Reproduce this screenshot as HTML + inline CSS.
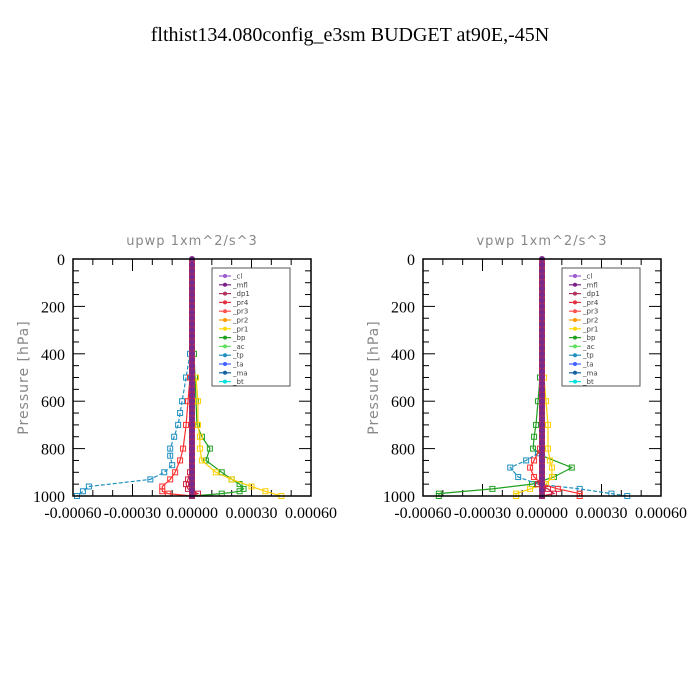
<!DOCTYPE html>
<html><head><meta charset="utf-8"><style>
body{margin:0;background:#fff;}
svg{display:block;}
</style></head><body>
<svg id="chart" width="700" height="700" xmlns="http://www.w3.org/2000/svg">
<rect width="700" height="700" fill="#fff"/>
<text x="350" y="41" text-anchor="middle" font-family="Liberation Serif, serif" font-size="20" fill="#000">flthist134.080config_e3sm  BUDGET at90E,-45N</text>
</svg>
<script>
// shared axis ticks
const xTicks = [-0.0006, -0.0003, 0, 0.0003, 0.0006];
const xTickLabels = ["-0.00060", "-0.00030", "0.00000", "0.00030", "0.00060"];
const yTicks = [0, 200, 400, 600, 800, 1000];
const legendNames = ["_cl","_mfl","_dp1","_pr4","_pr3","_pr2","_pr1","_bp","_ac","_tp","_ta","_ma","_bt"];
const legendColors = ["#9b59d0","#7a1f8a","#b03060","#e03040","#ff5050","#ff9a00","#ffd800","#20a020","#60e060","#2090c0","#4060ff","#1060a0","#00e0e0"];
const centerLevels = [0,25,50,75,100,125,150,175,200,225,250,275,300,325,350,375,400,425,450,475,500,525,550,575,600,625,650,675,700,725,750,775,800,825,850,875,900,925,950,975,1000];

// panel 1 (upwp)
const p1tpLev = [400,500,600,650,700,750,800,830,870,900,930,960,980,1000];
const p1tpVal = [-0.00001,-0.00003,-0.00005,-0.00006,-0.00007,-0.00009,-0.00011,-0.00011,-0.0001,-0.00014,-0.00021,-0.00052,-0.00055,-0.00058];
const p1pr3Lev = [500,600,700,800,850,900,930,960,980,990,1000];
const p1pr3Val = [-0.00001,-0.00002,-0.00003,-0.000045,-0.00006,-0.000085,-0.00011,-0.00015,-0.00015,-0.00012,0];
const p1bpLev = [400,500,600,700,750,800,850,900,930,950,970,980,990,1000];
const p1bpVal = [0.00001,0.000015,0.00002,0.000025,0.00005,0.00009,0.00007,0.00015,0.0002,0.00024,0.00026,0.00024,0.00015,0];
const p1pr1Lev = [500,600,700,750,800,850,900,930,960,980,1000];
const p1pr1Val = [0.00002,0.00003,0.00003,0.00004,0.00004,0.00005,0.00012,0.0002,0.0003,0.00037,0.00045];
const p1dp1Lev = [850,900,930,950,970,990,1000];
const p1dp1Val = [0,-0.00001,-0.00002,-0.00003,-0.00002,0.00003,0];

// panel 2 (vpwp)
const p2bpLev = [500,600,700,750,800,830,880,920,950,970,990,1000];
const p2bpVal = [-0.00001,-0.00002,-0.00003,-0.00004,-0.000045,0,0.00015,0.00006,-0.00005,-0.00025,-0.00052,-0.00052];
const p2tpLev = [820,850,880,920,950,970,990,1000];
const p2tpVal = [-0.00002,-0.00008,-0.00016,-0.00012,-0.00002,0.00019,0.00035,0.00043];
const p2pr3Lev = [800,850,880,920,950,970,990,1000];
const p2pr3Val = [-0.00001,-0.00004,-0.00006,-0.00004,0,0.00008,0.00019,0.00019];
const p2pr1Lev = [500,600,700,800,850,880,920,950,970,990,1000];
const p2pr1Val = [0.00001,0.00002,0.00003,0.00003,0.00004,0.00005,0.00005,0.00002,-0.00006,-0.00013,-0.00013];
const p2dp1Lev = [900,950,970,990,1000];
const p2dp1Val = [0,-0.00002,0.00003,0.00006,0];

const NS="http://www.w3.org/2000/svg";
const svg=document.getElementById('chart');
function mk(tag,attrs,parent){const e=document.createElementNS(NS,tag);for(const k in attrs)e.setAttribute(k,attrs[k]);(parent||svg).appendChild(e);return e;}

function panel(ox,title,name,series){
  const L=ox+73,R=ox+311,T=259,B=496;
  const xs=v=>L+(v+0.0006)/0.0012*(R-L);
  const ys=p=>T+p/1000*(B-T);
  const g=mk('g',{});
  
  
  const t=mk('text',{x:(L+R)/2,y:245,'text-anchor':'middle','font-family':'DejaVu Sans, sans-serif','font-size':13,fill:'#888','letter-spacing':'1'},g);
  t.textContent=title;
  
  
  const yl=mk('text',{x:0,y:0,transform:`translate(${ox+28},${(T+B)/2}) rotate(-90)`,'text-anchor':'middle','font-family':'DejaVu Sans, sans-serif','font-size':14,fill:'#888','letter-spacing':'1'},g);
  yl.textContent='Pressure [hPa]';
  
  
  // minor ticks
  for(let p=0;p<=1000;p+=50){
    const y=ys(p),len=(p%200===0)?12:6;
    mk('line',{x1:L,x2:L+len,y1:y,y2:y,stroke:'#000','stroke-width':1},g);
    mk('line',{x1:R,x2:R-len,y1:y,y2:y,stroke:'#000','stroke-width':1},g);
  }
  yTicks.forEach(p=>{
    const tx=mk('text',{x:L-8,y:ys(p)+6,'text-anchor':'end','font-family':'Liberation Serif, serif','font-size':16,fill:'#000'},g);
    tx.textContent=p;
    
    
  });
  for(let v=-0.0006;v<=0.00061;v+=0.0001){
    const x=xs(v),major=Math.abs(Math.round(v*1e4))%3===0,len=major?12:6;
    mk('line',{x1:x,x2:x,y1:B,y2:B-len,stroke:'#000','stroke-width':1},g);
    mk('line',{x1:x,x2:x,y1:T,y2:T+len,stroke:'#000','stroke-width':1},g);
  }
  xTicks.forEach((v,i)=>{
    const tx=mk('text',{x:xs(v),y:B+22,'text-anchor':'middle','font-family':'Liberation Serif, serif','font-size':16,fill:'#000'},g);
    tx.textContent=xTickLabels[i];
    
    
  });
  // series
  series.forEach(s=>{
    const pts=s.lev.map((p,i)=>xs(s.val[i]).toFixed(1)+','+ys(p).toFixed(1)).join(' ');
    const pl=mk('polyline',{points:pts,fill:'none',stroke:s.color,'stroke-width':1.2,'stroke-dasharray':s.dash||'none'},g);
    
    
    s.lev.forEach((p,i)=>{
      const m=mk('rect',{x:xs(s.val[i])-2.5,y:ys(p)-2.5,width:5,height:5,fill:'none',stroke:s.color,'stroke-width':1},g);
      
      
    });
  });
  // central near-zero profiles
  const band=mk('rect',{x:xs(0)-3,y:T,width:6,height:B-T,fill:'#c03050'},g);
  
  
  centerLevels.forEach(p=>{
    const c=mk('circle',{cx:xs(0),cy:ys(p),r:3,fill:'#7a2a8a'},g);
    
    
  });
  // frame
  const fr=mk('rect',{x:L,y:T,width:R-L,height:B-T,fill:'none',stroke:'#000','stroke-width':1.5},g);
  
  
  // legend
  const lg=mk('g',{},g);
  
  
  mk('rect',{x:L+139,y:268,width:78,height:118,fill:'#fff',stroke:'#555','stroke-width':1},lg);
  legendNames.forEach((n,i)=>{
    const y=276+i*8.8;
    mk('line',{x1:L+146,x2:L+158,y1:y,y2:y,stroke:legendColors[i],'stroke-width':1.2},lg);
    mk('circle',{cx:L+152,cy:y,r:2,fill:legendColors[i]},lg);
    const tx=mk('text',{x:L+160,y:y+2.5,'font-family':'DejaVu Sans, sans-serif','font-size':7,fill:'#444'},lg);
    tx.textContent=n;
    
    
  });
}

panel(0,'upwp   1xm^2/s^3','panel-upwp',[
  {key:'tp',lev:p1tpLev,val:p1tpVal,color:'#2090c0',dash:'4,2'},
  {key:'pr3',lev:p1pr3Lev,val:p1pr3Val,color:'#ff3030'},
  {key:'bp',lev:p1bpLev,val:p1bpVal,color:'#20a020'},
  {key:'pr1',lev:p1pr1Lev,val:p1pr1Val,color:'#ffd000'},
  {key:'dp1',lev:p1dp1Lev,val:p1dp1Val,color:'#d02040'}
]);
panel(350,'vpwp   1xm^2/s^3','panel-vpwp',[
  {key:'bp',lev:p2bpLev,val:p2bpVal,color:'#20a020'},
  {key:'tp',lev:p2tpLev,val:p2tpVal,color:'#2090c0',dash:'4,2'},
  {key:'pr3',lev:p2pr3Lev,val:p2pr3Val,color:'#ff3030'},
  {key:'pr1',lev:p2pr1Lev,val:p2pr1Val,color:'#ffd000'},
  {key:'dp1',lev:p2dp1Lev,val:p2dp1Val,color:'#d02040'}
]);
</script>
</body></html>
